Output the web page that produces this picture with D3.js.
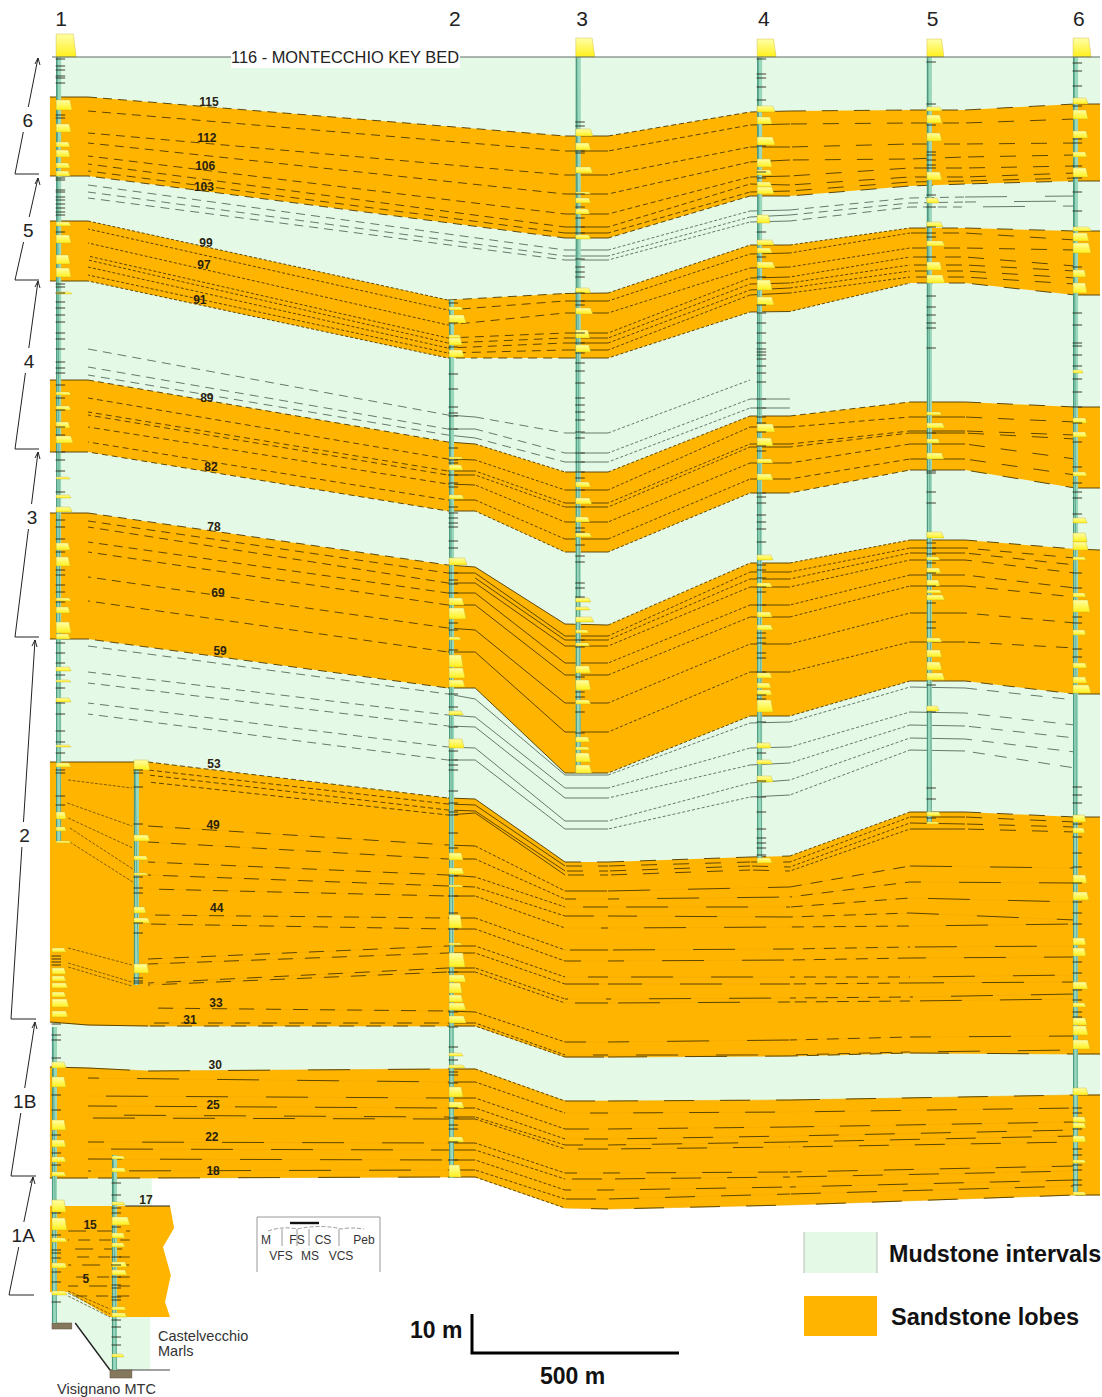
<!DOCTYPE html>
<html>
<head>
<meta charset="utf-8">
<script src="https://cdn.jsdelivr.net/npm/d3@7"></script>
<style>
  body { margin: 0; background: #fff; }
  text { font-family: "Liberation Sans", Arial, sans-serif; }
</style>
</head>
<body>
<div id="chart"></div>
<script>
const _ = null; // no kink of the surface at this station

// stations along the section, metres from log 1
const stationDist = [-5, 87, 232, 956, 1022, 1239, 1343, 1686, 1782, 2072, 2205, 2471, 2531];

const sectionNames = ["1", "2", "3", "4", "5", "6"];
const sectionLabelDist = [22, 973, 1280, 1719, 2127, 2480];

// surfaces: depth under the key bed at each station (read units, 5 px each)
const lobe6 = [
  [8, 8, _, _, _, 15.8, 15.8, 11, 10.8, 10.6, 10.6, 9.4, 9.4],
  [_, 10.8, _, _, _, 18.8, 18.8, 13.6, 13.4, 13.2, 13.2, 12.4, _],
  [_, 15.2, _, _, _, 23.6, 23.6, 18, 18, 17.4, 17.4, 17.2, _],
  [_, 17.2, _, _, _, 27.4, 27.4, 21, 20.6, 20.4, 20, 19.6, _],
  [_, 19.8, _, _, _, 31.4, 31.4, 24, 23.8, 22.2, 22.2, 21.8, _],
  [_, 21.4, _, _, _, 34, 34, 25.4, 25.6, 24, 24, 23.2, _],
  [_, 22.8, _, _, _, 35.2, 35.2, 27, 26.8, 25, 24.8, 24.2, _],
  [23.8, 23.8, _, _, _, 36.2, 36.2, 27.8, 27.8, 25.8, 25.4, 24.8, 24.8]
];
const mud5 = [
  [_, 25.6, _, _, _, 38.6, 38.6, 30.8, 30.6, 28.2, 28, 27.8, _],
  [_, 27, _, _, _, 39.8, 39.8, 32, 31.6, 29.2, 29, 28.8, _],
  [_, 28.2, _, _, _, 40.6, 40.6, 33, 32.8, 30, 30, 29.8, _]
];
const lobe5 = [
  [32.8, 32.8, _, 48.6, _, 47.3, 47.2, 37.6, 37.6, 34.2, 34.2, 34.8, 34.8],
  [_, 34.4, _, 50.6, _, 48.8, 48.8, 39.4, 39.2, 35.2, 35.2, 36.6, _],
  [_, 37.2, _, 53.6, _, 51.2, 51.2, 42.2, 42, 38.2, 38.2, 38.6, _],
  [_, 39.8, _, 56.2, _, 55.2, 55.2, 44.2, 44, 40, 40, 41.8, _],
  [_, 40.6, _, 57.2, _, 56.2, 56.2, 45.4, 45.2, 41.6, 41.6, 42.8, _],
  [_, 42, _, 58.2, _, 57.2, 57.2, 46.6, 46.2, 42.8, 42.8, 44.2, _],
  [_, 43.6, _, 59.2, _, 58.6, 58.6, 47.6, 47.2, 44, 44, 45.4, _],
  [44.8, 44.8, _, 60.2, 60.2, 60.2, 60.2, 51, 50.9, 45.2, 45.2, 47.6, 47.6]
];
const mud4 = [
  [_, 58.4, _, 71.6, 72, 75.2, 75.2, 64.6, _, _, _, _, _],
  [_, 62, _, 74.4, 74.4, 79.2, 79.2, 68.4, 68.4, _, _, _, _],
  [_, 63.6, _, 75.6, 76.2, 81, 81, 70.2, 70.2, _, _, _, _]
];
const lobe4 = [
  [64.6, 64.6, _, 77, 77.4, 83, 83, 71.8, 71.8, 69, 69, 70, 70],
  [_, 68.2, _, 80.4, 80.6, 86.6, 86.6, 74, 74, 72, 72, 73, _],
  [_, 71, _, 82.8, 82.8, 89.2, 89.2, 77.4, 77.4, 74.8, 74.8, 75.6, _],
  [_, 71.6, _, 83.6, 83.6, 90, 90, 78, 78, 75.2, 75.2, 76.4, _],
  [_, 74, _, 85.4, 85.6, 93, 93, 81.2, 81.2, 77.4, 77.4, 80.4, _],
  [_, 77, _, 88.6, 88.6, 96.4, 96.4, 84.4, 84.4, 80.4, 80.4, 83.6, _],
  [79, 79, _, 90.8, 90.8, 99, 99, 87.2, 87.2, 82.6, 82.6, 86.2, 86.2]
];
const lobe3 = [
  [91.2, 91.2, _, 101.6, 102, 113.4, 113.6, 101.2, 101.2, 96.6, 96.6, 98.4, 98.6],
  [_, 92.8, _, 103.2, 103.2, 115.8, 115.8, 103, 103, 98.2, 98.2, 100.2, _],
  [_, _, _, _, 104.2, 116.6, 116.6, 104.4, 104.4, 99.2, 99.2, 101.6, _],
  [_, 94, _, 105.2, 105.2, 117.8, 117.8, 106, 106, 100.6, 100.6, 103.2, _],
  [_, 97, _, 107.2, 107.2, 121.2, 121.2, 109.6, 109.6, 103.6, 103.6, 106.2, _],
  [_, 99, _, 109.6, 109.6, 123.6, 123.6, 112, 112, 105.8, 105.8, 108, _],
  [_, 104, _, 114.2, 114.6, 129.2, 129.2, 117.4, 117.4, 111.2, 111.2, 113.2, _],
  [_, 108.8, _, 119, 119, 135, 135, 123, 123, 117, 117, 118.2, _],
  [116.4, 116.4, _, 126.2, 126.2, 143.2, 143.2, 131.8, 131.8, 124.8, 124.8, 127.4, 127.4]
];
const mud2 = [
  [_, 117.8, _, 127.4, 128.4, 143.6, 143.6, 133.2, 133, 126, 126.2, 128.6, _],
  [_, 123, _, 131.6, 132, 146.2, 146.2, 138.2, 138, 131, 131.2, 133.6, _],
  [_, 125.2, _, 133.8, 134, 148.2, 148.2, 141.6, 141.2, 133.6, 133.8, 136.2, _],
  [_, 129.2, _, 138, 138.2, 152.8, 152.8, 145.2, 144.6, 136.2, 136.4, 139, _],
  [_, 131.4, _, 140.6, 140.6, 154.4, 154.4, 148, 147.6, 138.6, 138.8, 142.2, _]
];
// top four surfaces of lobe 2 keep a tighter dash than the rest
const lobe2Upper = [
  [141, 141, 141, 148.2, 148.4, 161, 161, 160, 159.8, 151, 151, 152, 152],
  [_, _, 142.6, 149.4, 149.6, 161.8, 161.8, 161, 161, 152, 152, 153, _],
  [_, _, 143.6, 150.6, 150.8, 162.8, 162.8, 161.8, 162, 153.2, 153.4, 154, _],
  [_, _, 145, 151.6, 151.2, 163.6, 163.6, 162.6, 162.8, 154.4, 154.4, 155, _]
];
const lobe2Lower = [
  [_, _, 153.8, 157.6, 157.8, 166.8, 166.8, _, 166, 161.8, _, 162.2, _],
  [_, _, 157, 160.4, 160.4, 168.4, 168.4, _, 168, 165, _, 165.2, _],
  [_, _, 161, 163.6, 164, 170, 170, _, 170, 168.2, _, 169, _],
  [_, _, 163.6, 165.8, 166, 171.8, 171.8, _, 172, 171.2, _, 172.6, _],
  [_, _, 166.4, 167.8, 167.8, 174.2, 174.2, _, 174, 173.8, _, 173.4, _],
  [_, _, 171.6, 172.2, 172.2, 178.6, 178.6, _, 178.4, 178, _, 177.8, _],
  [_, _, 173.4, 174.4, 174.4, 180.8, 180.8, _, 180.6, 180.2, _, 180, _],
  [_, _, 180.4, 177.8, 177.8, 184, 184, _, 184, 184, _, 183.6, _],
  [_, _, 181.4, 179.2, 179.2, 185.4, 185.4, _, 185.4, 185.2, _, 185, _],
  [_, _, 185.2, 182.2, 182.2, 188.4, 188.4, _, 188.2, 188, _, 187.4, _],
  [_, _, 185.6, 183, 183, 189.2, 189.2, _, 189, 188.8, _, 188.4, _],
  [_, _, 190.2, 190.8, 191, 197, 197, _, 196.6, 196, _, 195.8, _],
  [_, _, 193.2, 193.2, 193.2, 199.6, 199.6, _, 199.6, 199, _, 198.6, _],
  [193, 193.6, 193.8, 193.8, 193.8, 200, 200, _, 199.8, 199.2, _, 199.4, 199.4]
];
const lobe1B = [
  [202, 202.2, 202.8, 202.4, 202.4, 208.8, 208.8, _, 208.6, _, _, 207.6, 207.6],
  [_, 204.2, _, 205, 205, 211.2, 211.2, _, 211, _, _, 210.2, _],
  [_, 207.8, _, 208.2, 208.2, 214.4, 214.4, _, 214, _, _, 213, _],
  [_, 209.8, _, 210.2, 210.2, 216.4, 216.4, _, 215.8, _, _, 214.6, _],
  [_, 211.6, _, 212, 212, 217.6, 217.6, _, 217, _, _, 215.8, _],
  [_, 212.2, _, 212.4, 212.4, 218.4, 218.4, _, 218, _, _, 217, _],
  [_, 217, _, 217.2, 217.2, 223.2, 223.2, _, 223, _, _, 221.8, _],
  [_, 218.4, _, 218.6, 218.6, 224.4, 224.4, _, 224, _, _, 222.8, _],
  [_, 220.4, _, 220.6, 220.6, 226.6, 226.6, _, 226, _, _, 224.6, _],
  [_, 222.8, _, 222.6, 222.6, 228.4, 228.4, _, 227.4, _, _, 225.8, _],
  [224.2, 224.2, 224.2, 224, 224, 230.2, 230.4, _, 229.6, _, _, 227.6, 227.6]
];

// unit 1A is only seen in the two short logs at the left: [dist, depth]
const mud1A = [[0, 224.2], [241, 224.2], [241, 229.8], [237, 252], [237, 262.6], [140, 262.6], [56, 253.2], [0, 253.2]];
const lobe1A = [[-5, 229.8], [285, 229.8], [295, 234.2], [268, 238], [287, 243.6], [273, 249], [285, 252], [140, 252], [39, 247], [-5, 247]];
const lobe1ADepths = [234.8, 236.6, 238.4, 240, 241.6, 244, 245.8, 247.8];
// thin links, col 1 to col 1b and col 1 to col 1A: [dist, depth, dist, depth]
const logLinks = [
  [39, 144.6, 193, 146.2], [37, 149.2, 193, 153.8], [39, 152.2, 195, 158.2], [43, 154.2, 195, 162.4], [43, 157, 195, 165],
  [39, 178.2, 193, 181.6], [39, 181.2, 193, 185], [39, 182, 193, 185.8],
  [39, 246.8, 140, 250.4], [39, 247.2, 140, 251.4], [39, 247.8, 140, 252]
];

// beds: [top, base, grain], ticks: depth of thin beds
const col1Beds = [[-4.6,0,2],[8.6,10.6,1.6],[13.4,15,1.5],[17,18,1.4],[18.6,20,1.4],[21.2,22.2,1.4],[22.8,23.8,1.4],[33,33.8,1.5],[35.6,37.2,1.5],[39.6,41.4,1.4],[42.2,44,1.5],[47,47.4,1.6],[67,67.6,1.5],[69.8,70.6,1.5],[73,74.2,1.4],[75.8,77.2,1.7],[84,84.4,1.4],[87.6,88.2,1.5],[90,91,1.6],[97.2,98.6,1.4],[100,101.8,1.4],[108.2,108.8,1.5],[110,111.2,1.4],[113,115.2,1.5],[115.4,116.4,1.4],[122,122.8,1.5],[124.6,125,1.5],[128.2,129,1.5],[137.6,138,1.5],[141.2,142,1.5],[151,152.4,1],[154,154.8,1],[156.8,157.2,1.5]];
const col1Ticks = [0.4,1.8,2.6,3.8,4.2,5.2,11.6,12.2,24.2,24.6,26.6,27,28,28.6,29.4,30.2,31,31.6,35,45.4,46,47.2,49,50.2,51.6,53,55.2,56.4,58.4,61,62.2,63.2,65.6,68.2,70.6,74,75.6,79,80.6,82.8,87,92.6,94,96.4,99,102.6,103.6,105.6,107,109,117.2,119.2,121.2,123.6,126.2,129.2,131.4,134.8,137,139.2,142.6,143.2,147.8,149.6];
const col1LowBeds = [[178.2,179,1.4],[182.2,183.4,1.4],[183.8,184.8,1.4],[185.2,186.2,1.6],[187,188,1.4],[188.4,190,1.7],[190.8,192,1.6],[201,202.2,1.4],[204,206,1.4],[212.6,214.6,1.4],[216.6,218,1.4],[220,221,1.4],[223,223.8,1.4],[228.6,231,1.4],[232.2,234.6,1.5],[236.2,237,1.5],[241.2,242.2,1.5],[246.8,247.6,1.5]];
const col1LowTicks = [179.8,180.4,181,181.6,193.4,195.6,196.6,200.2,207.6,210.6,215.6,219.2,221.6,231.2,235.6,238.6,239.2,240.2,243,245,249];
const col1bBeds = [[140.6,142.6,1.6],[155.6,156.8,1.6],[159.8,160.6,1.4],[163.2,163.6,1.4],[170,171.2,1.2],[172.2,173.2,1.6],[181.4,183.2,1.5]];
const col1bTicks = [142.6,143.2,146,153.4,164,166.2,167.2,173.2,175.2,184.2,184.8,185.2];
const col1ABeds = [[219.8,220.4,1.3],[222.2,223,1.4],[229,229.6,1.3],[232,233.6,1.8],[235.2,236.2,1.3],[237.2,238,1.3],[241,242,1.5],[242.6,243.6,1.5],[250,250.6,1.4],[251.2,252,1.5],[259.4,260,1.2]];
const col1ATicks = [225.2,227.6,230.2,231.2,234,240,241.6,244,245.6,246.2,248,248.6,252.6,254,256,257.6];
const col2Beds = [[50,50.6,1.4],[51.6,53.2,1.7],[55.6,56.2,1.2],[56.2,57.6,1.3],[58.6,60,1.5],[80,80.4,1.4],[81.6,82.6,1.4],[87.6,88.4,1.5],[100.2,101.6,1.8],[108.2,109.6,1.5],[110.2,112.4,1.7],[116,116.6,1.2],[119.6,122,1.4],[122.2,124.2,1.6],[124.6,126,1.6],[130.8,131.6,1.4],[136.4,138.2,1.5],[159.2,160.6,1.4],[162.2,163.4,1.5],[165.6,166,1.4],[171.6,174.2,1.3],[177.2,177.6,1.3],[179.2,182,1.6],[183.6,185,1.7],[185.2,187.2,1.3],[187.6,189,1.4],[189.2,190.6,1.7],[191.8,193.2,1.7],[199.2,199.8,1.4],[201.6,202.2,1.6],[206,208,1.4],[209,210.2,1.5],[216,217,1.5],[221.6,224,1.2]];
const col2Ticks = [49.2,53.2,58,63.4,66.4,70,71.2,71.8,74.4,78.2,80.6,81.2,83.6,85.2,86,90,91.2,92.2,93.2,94,96.8,98.2,103.2,104.6,105.4,107.2,113.2,114.6,118.6,127.4,130,134,138.8,140.6,141.6,142.6,146.8,149.2,151,151.6,155.2,158.2,163.8,167.8,171.2,174.4,183,191,194,198,200.6,203,203.6,205.2,210.2,212.2,213.6,214.4,217,220.6];
const col3Beds = [[-3.8,0,1.9],[14.4,15.8,1.7],[17.2,18.6,1.5],[22,23.2,1.7],[27,27.4,1.5],[28.2,29.2,1.5],[30.4,31.4,1.4],[35.6,36.4,1.5],[46.2,47.2,1.5],[50.2,51.4,1.7],[54.6,56.2,1.4],[57.6,59,1.5],[85,86,1.5],[88.2,89.4,1.6],[92,93,1.4],[95.2,96,1.6],[108.2,109,1.5],[110,110.6,1.4],[112,113,1.8],[114.6,115.2,1.3],[117.2,117.8,1.4],[121.8,123.2,1.5],[124.6,126.6,1.5],[128.6,129.4,1.5],[136,137,1.4],[138,138.6,1.4],[139.2,141,1.5],[141.6,143.2,1.6]];
const col3Ticks = [13,13.8,18.8,19.2,27.4,30,32.2,34,35.2,40.4,42,43,44,47.2,48.8,49.6,55.2,57.2,59.2,61.2,62.8,65.2,68.2,69.6,71,72.6,75,76.2,79.2,81,83,84.2,86.6,90,94.2,95,97.6,99.8,101,105.2,106.2,108,116.6,118,124,127,128,131,135.2];
const col4Beds = [[-3.6,0,1.9],[9.8,11,1.8],[12,13.4,1.5],[16,17.6,1.8],[20.4,22,1.5],[22.6,23.6,1.5],[25,26,1.5],[26,27.4,1.7],[31.6,33.2,1.3],[36.6,37.6,1.7],[38.2,39.2,1.5],[41,42.2,1.8],[44.6,46.6,1.5],[48,49.6,1.7],[73.4,75,1.8],[76.2,77.8,1.6],[80.4,81.2,1.6],[83.4,84.6,1.6],[99.6,100.6,1.6],[105.2,106,1.5],[111,112,1.5],[113.6,114.6,1.6],[123.2,124.2,1.5],[125.2,126.2,1.4],[126.6,127.6,1.5],[128.6,131,1.6],[137.2,138.2,1.4],[140.6,141.4,1.5],[143.8,145,1.6],[160.2,161.2,1.5]];
const col4Ticks = [0.4,3.4,4.2,6,8.6,17.8,23,24.2,35,40,44,49.6,51.2,53.2,55.2,57.2,58.4,59,59.6,60.4,61.8,63.2,65,68.4,70.2,72,73.2,75,77.8,78.8,87.2,88,89.2,91.6,93,94.4,97,101.6,102.6,104.2,106,107,109.6,115.2,116.2,117.2,119.2,120.2,123,127.6,128.4,133,139.2,144.8,148,151,154.4,156.2,157.2,158.2,159.6];
const col5Beds = [[-3.6,0,1.7],[10,10.8,1.5],[11.6,13.2,1.5],[15.2,16.8,1.5],[23,24.6,1.5],[28.2,29.2,1.2],[33,34,1.6],[36.8,37.8,1.8],[41,42.6,1.5],[43.6,45.2,1.8],[71,71.6,1.5],[73.2,74.2,1.8],[76.4,77.2,1.3],[79.2,80.4,1.7],[95,96.2,1.7],[100,100.6,1.3],[102.2,103.2,1.4],[104.6,105.8,1.3],[106.6,107.2,1.5],[107.6,108.6,1.8],[116.2,117,1.5],[118.6,120,1.5],[121,122.6,1.5],[123.2,124.6,1.8],[129.8,130.8,1.2],[151,151.8,1.4],[153,153.4,1.2]];
const col5Ticks = [1,9.4,13.6,19,19.6,20.6,21.6,22.2,27.6,30,34,35.2,36,40,47.8,50,51.6,53.2,54.2,58.2,75.2,82.8,83.2,87,89.2,97.2,98.2,99.4,101.2,103.2,105.8,109.2,113,114.2,125.6,131,146.2,148.4,152.2];
const col6Beds = [[-3.8,0,1.8],[8.2,9.4,1.5],[10.6,12.4,1.5],[14.8,16.2,1.5],[19,20,1.4],[22.2,24,1.5],[34,34.8,1.8],[35.2,36.8,1.6],[37.2,39.2,1.8],[42.6,44,1.3],[45.2,47.2,1.4],[62.6,63.2,1],[72.2,73.2,1.4],[75,76,1.4],[83,83.8,1.4],[92.2,93.2,1.4],[95.2,97,1.4],[97,98.6,1.5],[100,100.6,1.3],[107.2,108,1.3],[108.6,111,1.7],[114.6,115.6,1.3],[121.2,122.2,1.4],[124,125.2,1.4],[125.6,127.2,1.8],[151.6,153,1.3],[154.2,155.2,1.2],[163.6,165.2,1.4],[167,168.6,1.6],[176.2,177.6,1.3],[178.2,179.8,1.3],[185,186.4,1.5],[189.2,190,1.3],[192.2,193.6,1.4],[193.8,195.6,1.5],[196.6,198.4,1.7],[206.2,207.6,1.5],[212,213,1.3],[213.2,214.2,1.3],[215.8,217,1.3],[220.6,221.2,1.3],[227,227.6,1.3]];
const col6Ticks = [1.2,2.8,5.8,9.8,16.4,17.2,21.8,24.2,27,30.8,42,51.2,53.6,57.2,57.8,59.6,61.8,64.4,67,70,73.2,77,82,85.2,87,88.2,91.4,103.2,106.2,112,113.2,118.4,120,146,147.6,149.2,153.4,156,159.2,162,165.2,169,171.2,173.4,181,183.2,186.6,188.6,191,192,210.2,211.2,214.4,218.4,219.6,221.6,222.6,224.6,225.6];

// bed numbers written on the panel
const bedNames = ["115","112","106","103","99","97","91","89","82","78","69","59","53","49","44","33","31","30","25","22","18","17","15","5"];
const bedDist = [379,374,370,367,372,367,357,374,384,391,401,406,391,389,398,396,333,394,389,386,389,227,92,82];
const bedDepth = [9,16.2,21.8,26,37.2,41.6,48.6,68.2,82,94,107.2,118.8,141.4,153.6,170.2,189.2,192.6,201.6,209.6,216,222.8,228.6,233.6,244.4];

// depositional units, brackets at the left
const unitNames = ["6","5","4","3","2","1B","1A"];
const unitTop = [0.2,24.2,44.8,79,116.6,193,224];
const unitBase = [23.4,44.6,78.4,116,192.4,223.8,247.6];
const unitLabel = [12.6,34.6,60.8,92,155.6,208.8,235.6];
const unitFoot = [15,15,15,15,11,11,9];
const unitTip = [39,39,39,39,36,36,34];

const grainTop = ["M","FS","CS","Peb"];
const grainBottom = ["VFS","MS","VCS"];

const sandColor = "#ffb500", mudColor = "#e5fae6";

const x = d3.scaleLinear().domain([0, 2531]).range([52, 1100]);
const y = d3.scaleLinear().domain([0, 264]).range([57, 1377]);
const grain = d3.scaleLinear().domain([0, 6]).range([0, 60]);

const svg = d3.select("#chart").append("svg")
  .attr("width", 1102).attr("height", 1397)
  .style("display", "block");

const defs = svg.append("defs");
const bedGrad = defs.append("linearGradient").attr("id", "bedGrad")
  .attr("x1", 0).attr("y1", 0).attr("x2", 0).attr("y2", 1);
bedGrad.append("stop").attr("offset", "0%").attr("stop-color", "#ffffa8");
bedGrad.append("stop").attr("offset", "100%").attr("stop-color", "#fff01a");

const polyline = d3.line().x(d => x(d[0])).y(d => y(d[1]));

function rowPoints(row) {
  return row.map((d, i) => [stationDist[i], d, i]).filter(p => p[1] !== null);
}

function lobePolygon(rows) {
  let top = rowPoints(rows[0]);
  let base = rowPoints(rows[rows.length - 1]).reverse();
  return polyline(top.concat(base)) + "Z";
}

// mudstone background
let mudPts = [[10, 0], [2531, 0]]
  .concat(rowPoints(lobe1B[lobe1B.length - 1]).reverse().slice(0, -1))
  .concat([[0, 224.2], [0, 157], [10, 157]]);
svg.append("path").attr("d", polyline(mudPts) + "Z").attr("fill", mudColor);
svg.append("path").attr("d", polyline(mud1A) + "Z").attr("fill", mudColor);

// sandstone lobes
const lobe2 = lobe2Upper.concat(lobe2Lower);
const lobes = [lobe6, lobe5, lobe4, lobe3, lobe2, lobe1B];
svg.selectAll("path.lobe").data(lobes).join("path")
  .attr("class", "lobe")
  .attr("d", lobePolygon)
  .attr("fill", sandColor);
svg.append("path").attr("d", polyline(lobe1A) + "Z").attr("fill", sandColor);

// dash by the station where the segment starts
const S = "", F = "3,2", M = "6,4", L = "9,6", B = "16,16", W = "42,38";
const groups = [
  {rows: lobe6,  dash: [S, L, L, L, L, S, "5,3", S, B, B, B, S], color: "#4d3900"},
  {rows: mud5,   dash: [S, L, L, L, L, S, F, S, L, L, W, S], color: "#556b5f"},
  {rows: lobe5,  dash: [S, F, F, L, L, S, F, S, F, B, B, S], color: "#4d3900"},
  {rows: mud4,   dash: [S, L, L, S, L, S, F, S, F, S, L, S], color: "#556b5f"},
  {rows: lobe4,  dash: [S, M, M, S, F, S, F, S, M, S, B, S], color: "#4d3900"},
  {rows: lobe3,  dash: [S, L, L, S, S, S, F, S, F, S, "12,10", S], color: "#4d3900"},
  {rows: mud2,   dash: [S, L, L, S, S, S, F, S, F, S, "12,10", S], color: "#556b5f"},
  {rows: lobe2Upper, dash: [S, S, "5,3", S, S, B, B, B, F, S, B, S], color: "#4d3900"},
  {rows: lobe2Lower, dash: [S, S, "15,12", S, F, W, W, W, "12,9", W, W, S], color: "#4d3900", faint: true},
  {rows: lobe1B, dash: [S, W, W, S, F, "30,26", "30,26", "30,26", "30,26", "30,26", "30,26", S], color: "#4d3900", faint: true}
];

groups.forEach(g => {
  let gEl = svg.append("g");
  g.rows.forEach((row, ri) => {
    let pts = rowPoints(row);
    d3.pairs(pts).forEach(pair => {
      let dash = g.dash[pair[0][2]];
      if (g.faint) {
        gEl.append("path").attr("d", polyline(pair)).attr("fill", "none")
          .attr("stroke", "#f0a900").attr("stroke-width", 0.6);
      }
      gEl.append("path").attr("d", polyline(pair)).attr("fill", "none")
        .attr("stroke", g.color)
        .attr("stroke-width", 0.9)
        .attr("stroke-dasharray", dash || null)
        .attr("stroke-dashoffset", ri * 31);
    });
  });
});

// unit 1A
svg.selectAll("line.s1a").data(lobe1ADepths).join("line")
  .attr("class", "s1a")
  .attr("x1", x(39)).attr("x2", x(188))
  .attr("y1", d => y(d)).attr("y2", d => y(d))
  .attr("stroke", "#4d3900").attr("stroke-width", 0.9)
  .attr("stroke-dasharray", (d, i) => i % 2 ? "12,9" : "18,11")
  .attr("stroke-dashoffset", (d, i) => i * 11);
svg.selectAll("line.link").data(logLinks).join("line")
  .attr("class", "link")
  .attr("x1", d => x(d[0])).attr("y1", d => y(d[1]))
  .attr("x2", d => x(d[2])).attr("y2", d => y(d[3]))
  .attr("stroke", "#4d3900").attr("stroke-width", 0.7)
  .attr("stroke-dasharray", "3,1.5");

// short solid bits at 17 and the base of the Marls
svg.append("line").attr("x1", x(177)).attr("x2", x(285)).attr("y1", y(229.8)).attr("y2", y(229.8)).attr("stroke", "#222").attr("stroke-width", 1);
svg.append("line").attr("x1", x(140)).attr("x2", x(285)).attr("y1", y(262.6)).attr("y2", y(262.6)).attr("stroke", "#444").attr("stroke-width", 1);
svg.append("path").attr("d", polyline([[56, 253.2], [140, 262.6]])).attr("stroke", "#222").attr("stroke-width", 1.4).attr("fill", "none");
svg.selectAll("rect.mtc").data([[0, 253.2, 254.4, 48], [140, 262.6, 264.2, 53]]).join("rect")
  .attr("class", "mtc")
  .attr("x", d => x(d[0])).attr("y", d => y(d[1]))
  .attr("width", d => x(d[3]) - x(0)).attr("height", d => y(d[2]) - y(d[1]))
  .attr("fill", "#85775c").attr("stroke", "#5c5240").attr("stroke-width", 0.5);

// sedimentary logs
const logs = [
  {dist: 10,   from: 0,    to: 157.2, beds: col1Beds,    ticks: col1Ticks},
  {dist: 0,    from: 194,  to: 253.2, beds: col1LowBeds, ticks: col1LowTicks},
  {dist: 198,  from: 141,  to: 185.6, beds: col1bBeds,   ticks: col1bTicks},
  {dist: 145,  from: 219.6, to: 262.6, beds: col1ABeds,  ticks: col1ATicks},
  {dist: 959,  from: 48.6, to: 224.2, beds: col2Beds,    ticks: col2Ticks},
  {dist: 1265, from: 0,    to: 143.2, beds: col3Beds,    ticks: col3Ticks},
  {dist: 1703, from: 0,    to: 161,   beds: col4Beds,    ticks: col4Ticks},
  {dist: 2113, from: 0,    to: 153.4, beds: col5Beds,    ticks: col5Ticks},
  {dist: 2466, from: 0,    to: 227.6, beds: col6Beds,    ticks: col6Ticks}
];

logs.forEach(lg => {
  let g = svg.append("g").attr("transform", "translate(" + x(lg.dist) + ",0)");
  g.append("rect")
    .attr("x", 0).attr("width", 5)
    .attr("y", y(lg.from)).attr("height", y(lg.to) - y(lg.from))
    .attr("fill", "#9ad8bc");
  g.append("line")
    .attr("x1", 0.5).attr("x2", 0.5)
    .attr("y1", y(lg.from)).attr("y2", y(lg.to))
    .attr("stroke", "#4a9a82").attr("stroke-width", 1.2);
  g.append("line")
    .attr("x1", 1).attr("x2", 4.5)
    .attr("y1", y(lg.from)).attr("y2", y(lg.to))
    .attr("stroke", "#4a9a82").attr("stroke-width", 0.7);

  g.selectAll("path.bed").data(lg.beds).join("path")
    .attr("class", "bed")
    .attr("d", d => {
      let w = grain(d[2]);
      return "M0," + y(d[0]) + "L" + (w * 0.86) + "," + y(d[0]) +
        "L" + w + "," + y(d[1]) + "L0," + y(d[1]) + "Z";
    })
    .attr("fill", "url(#bedGrad)")
    .attr("stroke", "#c9ad2c").attr("stroke-width", 0.4);

  g.selectAll("line.tick").data(lg.ticks).join("line")
    .attr("class", "tick")
    .attr("x1", -0.5).attr("x2", grain(0.9))
    .attr("y1", d => y(d)).attr("y2", d => y(d))
    .attr("stroke", "#2a2a1c").attr("stroke-width", 0.9);
});

// key bed
svg.append("line").attr("x1", x(0)).attr("x2", x(2531)).attr("y1", y(0)).attr("y2", y(0))
  .attr("stroke", "#5f6f68").attr("stroke-width", 1.2);
svg.append("rect").attr("x", 231).attr("y", 48).attr("width", 229).attr("height", 20).attr("fill", "#fff");
svg.append("text").attr("x", 231).attr("y", y(0) + 5.5)
  .attr("font-size", 16.4).attr("fill", "#222")
  .text("116 - MONTECCHIO KEY BED");

// section numbers
svg.selectAll("text.section").data(sectionNames).join("text")
  .attr("class", "section")
  .attr("x", (d, i) => x(sectionLabelDist[i]))
  .attr("y", 26).attr("text-anchor", "middle")
  .attr("font-size", 21).attr("fill", "#222")
  .text(d => d);

// bed numbers
svg.selectAll("text.bedno").data(bedNames).join("text")
  .attr("class", "bedno")
  .attr("x", (d, i) => x(bedDist[i]))
  .attr("y", (d, i) => y(bedDepth[i]) + 4)
  .attr("text-anchor", "middle")
  .attr("font-size", 12).attr("font-weight", "bold").attr("fill", "#2a2210")
  .text(d => d);

// unit brackets
unitNames.forEach((name, i) => {
  let yT = y(unitTop[i]), yB = y(unitBase[i]), yL = y(unitLabel[i]);
  let xF = unitFoot[i], xT = unitTip[i];
  let along = yy => xF + (xT - 1 - xF) * (yB - yy) / (yB - yT);
  svg.append("path")
    .attr("d", d3.line()([[xT, yB], [xF, yB], [along(yL + 12), yL + 12]]))
    .attr("fill", "none").attr("stroke", "#222").attr("stroke-width", 1);
  svg.append("path")
    .attr("d", d3.line()([[along(yL - 13), yL - 13], [xT - 1, yT]]))
    .attr("fill", "none").attr("stroke", "#222").attr("stroke-width", 1);
  svg.append("path")
    .attr("d", d3.line()([[xT - 4, yT + 6], [xT - 1, yT], [xT + 1, yT + 7]]))
    .attr("fill", "none").attr("stroke", "#222").attr("stroke-width", 1);
  svg.append("text")
    .attr("x", along(yL) + 2).attr("y", yL + 7)
    .attr("text-anchor", "middle").attr("font-size", 19).attr("fill", "#222")
    .text(name);
});

// grain size key
const key = svg.append("g").attr("stroke", "#999").attr("fill", "none");
key.append("path").attr("d", "M257,1272V1217H380V1272");
key.append("line").attr("x1", 290).attr("x2", 319).attr("y1", 1223).attr("y2", 1223).attr("stroke", "#111").attr("stroke-width", 2.4);
key.append("path").attr("d", "M268,1231Q282,1226 297,1229Q320,1224 342,1229Q350,1227 364,1229").attr("stroke-dasharray", "4,2");
[282, 297, 309, 339].forEach(k => key.append("line").attr("x1", k).attr("x2", k).attr("y1", 1229).attr("y2", 1246));
svg.selectAll("text.gt").data(grainTop).join("text").attr("class", "gt")
  .attr("x", (d, i) => [266, 297, 323, 364][i]).attr("y", 1244)
  .attr("text-anchor", "middle").attr("font-size", 12).attr("fill", "#333").text(d => d);
svg.selectAll("text.gb").data(grainBottom).join("text").attr("class", "gb")
  .attr("x", (d, i) => [281, 310, 341][i]).attr("y", 1260)
  .attr("text-anchor", "middle").attr("font-size", 12).attr("fill", "#333").text(d => d);

// formation names
svg.append("text").attr("x", 158).attr("y", 1341).attr("font-size", 14.5).attr("fill", "#333").text("Castelvecchio");
svg.append("text").attr("x", 158).attr("y", 1356).attr("font-size", 14.5).attr("fill", "#333").text("Marls");
svg.append("text").attr("x", 57).attr("y", 1394).attr("font-size", 14.5).attr("fill", "#333").text("Visignano MTC");

// scale bar
svg.append("path").attr("d", "M472,1314V1353H679").attr("fill", "none").attr("stroke", "#000").attr("stroke-width", 3);
svg.append("text").attr("x", 410).attr("y", 1338).attr("font-size", 23).attr("font-weight", "bold").attr("fill", "#111").text("10 m");
svg.append("text").attr("x", 540).attr("y", 1384).attr("font-size", 23).attr("font-weight", "bold").attr("fill", "#111").text("500 m");

// legend
svg.append("rect").attr("x", 804).attr("y", 1232).attr("width", 73).attr("height", 41).attr("fill", mudColor);
svg.append("path").attr("d", "M804,1232V1273M877,1232V1273").attr("stroke", "#aaa").attr("stroke-width", 0.8);
svg.append("rect").attr("x", 804).attr("y", 1296).attr("width", 73).attr("height", 40).attr("fill", sandColor);
svg.append("text").attr("x", 889).attr("y", 1262).attr("font-size", 23.3).attr("font-weight", "bold").attr("fill", "#111").text("Mudstone intervals");
svg.append("text").attr("x", 891).attr("y", 1325).attr("font-size", 23.5).attr("font-weight", "bold").attr("fill", "#111").text("Sandstone lobes");
</script>
</body>
</html>
